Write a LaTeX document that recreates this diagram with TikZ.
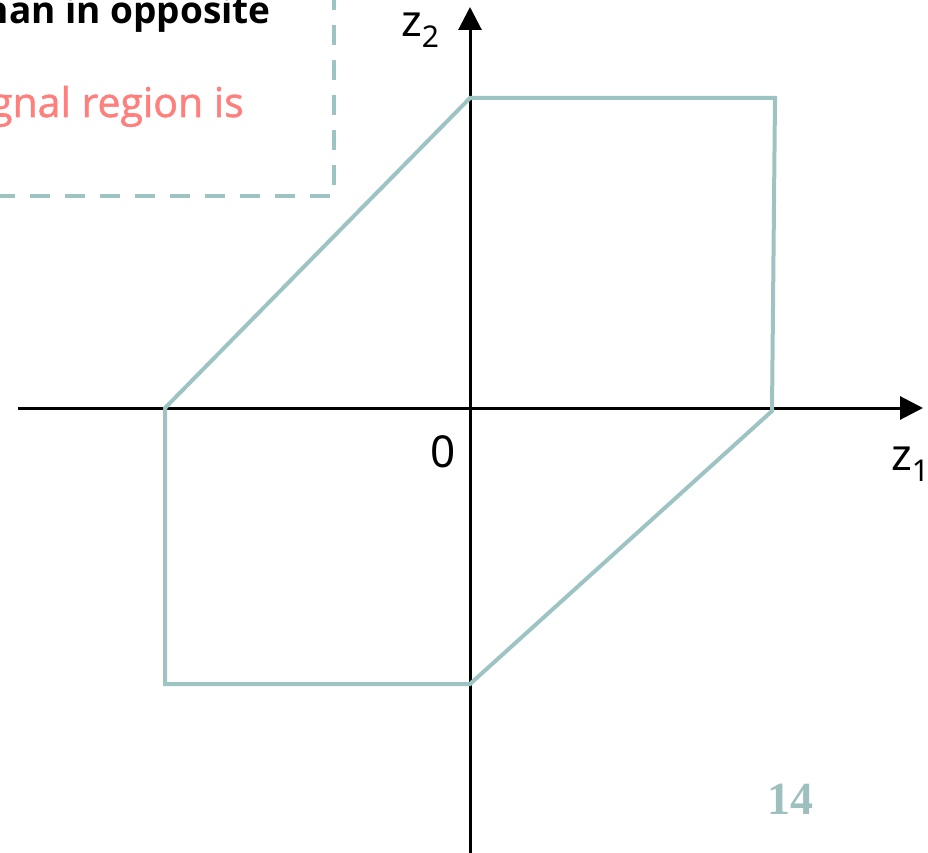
\documentclass[tikz,border=0pt]{standalone}
\usepackage{fontspec}
\setmainfont{Open Sans}
\newfontfamily\labelfont{Noto Sans}
\usetikzlibrary{arrows.meta}
\definecolor{teal1}{HTML}{9EC3C3}
\definecolor{teal2}{HTML}{9DBFBE}
\definecolor{salmon}{HTML}{FF7F7C}
\tikzset{
  axis/.style={line width=3pt, -{Triangle[length=23pt,width=23pt]}},
  region/.style={draw=teal1, line width=4pt, line join=miter},
  dashbox/.style={draw=teal1, line width=4.5pt, dash pattern=on 20pt off 15pt},
  lbl/.style={inner sep=0pt, font=\labelfont\fontsize{44}{50}\selectfont}
}
\begin{document}
\begin{tikzpicture}[x=1pt,y=-1pt]
\useasboundingbox (0,0) rectangle (928,853);
% dashed box (partial)
\coordinate (bt) at (334,-10);
\coordinate (bc) at (334,196);
\coordinate (bl) at (-10,196);
\draw[dashbox] (bt) -- (bc) -- (bl);
\node[inner sep=0pt, anchor=base east, font=\fontsize{37}{44}\selectfont\bfseries] (t1) at (271,24) {than in opposite};
\node[inner sep=0pt, anchor=base east, text=salmon, font=\fontsize{41}{48}\selectfont\mdseries\addfontfeature{FakeBold=1.3}] (t2) at (244,117) {signal region is};
% axes
\coordinate (xl) at (18,408);
\coordinate (xr) at (923,408);
\coordinate (yb) at (470,860);
\coordinate (yt) at (470,7);
\draw[axis] (xl) -- (xr);
\draw[axis] (yb) -- (yt);
% region
\coordinate (p1) at (470,98);
\coordinate (p2) at (775,98);
\coordinate (p3) at (772,411);
\coordinate (p4) at (470,684);
\coordinate (p5) at (165,684);
\coordinate (p6) at (165,408);
\draw[region] (p1) -- (p2) -- (p3) -- (p4) -- (p5) -- (p6) -- cycle;
% labels
\node[lbl, anchor=base west] (z2) at (401,37) {z\raisebox{-0.25em}{\fontsize{30}{30}\selectfont 2}};
\node[lbl, anchor=base west] (z1) at (891,470) {z\raisebox{-0.25em}{\fontsize{30}{30}\selectfont 1}};
\node[lbl, anchor=base east] (o) at (456,467) {0};
\node[inner sep=0pt, anchor=base, text=teal2, font=\fontsize{46}{50}\selectfont] (pg) at (790,814) {\fontspec{Liberation Serif}\bfseries 14};
\end{tikzpicture}
\end{document}
